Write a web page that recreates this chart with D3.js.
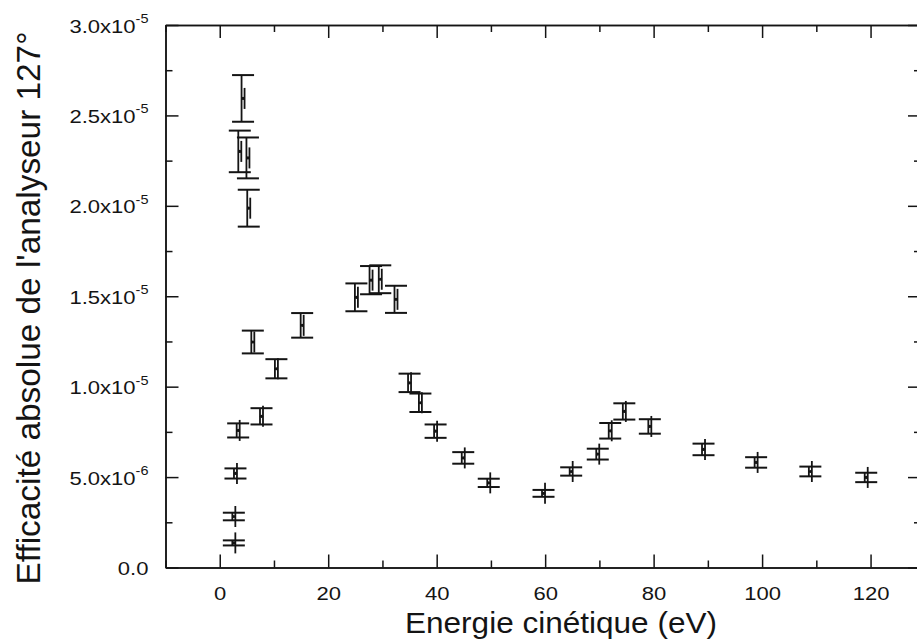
<!DOCTYPE html>
<html>
<head>
<meta charset="utf-8">
<script src="https://cdn.jsdelivr.net/npm/d3@7"></script>
<style>
  body { margin: 0; background: #fff; }
  svg { display: block; font-family: "Liberation Sans", Arial, sans-serif; }
</style>
</head>
<body>
<div id="chart"></div>
<script>
// Energie cinétique (eV)
const energie = [4.3, 3.7, 5.2, 5.35, 6.1, 10.45, 7.7, 3.4, 2.9, 2.6, 2.6,
  15.2, 25.2, 27.9, 29.6, 32.5, 35.0, 37.0, 39.8, 44.9, 49.6, 59.7,
  64.8, 69.7, 72.0, 74.6, 79.3, 89.2, 98.9, 108.9, 119.2];
// efficacité absolue, en unités de 1e-5
const efficacite = [2.594, 2.301, 2.265, 1.987, 1.247, 1.099, 0.836, 0.758, 0.520, 0.282, 0.136,
  1.339, 1.494, 1.589, 1.594, 1.483, 1.021, 0.911, 0.754, 0.606, 0.468, 0.410,
  0.531, 0.627, 0.756, 0.863, 0.780, 0.653, 0.581, 0.531, 0.498];
// demi-barre d'erreur, en unités de 1e-5
const erreur = [0.129, 0.115, 0.113, 0.102, 0.063, 0.053, 0.045, 0.039, 0.028, 0.021, 0.014,
  0.068, 0.077, 0.078, 0.077, 0.075, 0.051, 0.051, 0.037, 0.032, 0.023, 0.019,
  0.023, 0.030, 0.043, 0.045, 0.040, 0.032, 0.029, 0.027, 0.026];

const xTicks = [0, 20, 40, 60, 80, 100, 120];
const xMinorTicks = [-10, 10, 30, 50, 70, 90, 110, 130];
const yTicks = [0, 0.5, 1.0, 1.5, 2.0, 2.5, 3.0];
const yTickLabels = [["0.0", ""], ["5.0x10", "-6"], ["1.0x10", "-5"], ["1.5x10", "-5"],
  ["2.0x10", "-5"], ["2.5x10", "-5"], ["3.0x10", "-5"]];
const yMinorTicks = [0.25, 0.75, 1.25, 1.75, 2.25, 2.75];

const width = 917, height = 643;
const marginTop = 25, marginLeft = 165.5, marginBottom = 75.5;
const plotRight = 921;
const ink = "#141414";
const majorLen = 13, minorLen = 7;
const capHalf = 11, markerHalf = 10.5;

const x = d3.scaleLinear([-10, 129.3], [marginLeft, plotRight]);
const y = d3.scaleLinear([0, 3.0], [height - marginBottom, marginTop]);

const svg = d3.select("#chart").append("svg")
  .attr("width", width)
  .attr("height", height)
  .attr("viewBox", [0, 0, width, height]);

svg.append("rect").attr("width", width).attr("height", height).attr("fill", "#fff");

// axes: ticks pointing inside on all four sides
function axisGroup(axis, transform) {
  return svg.append("g")
    .attr("transform", transform)
    .call(axis.tickSizeOuter(0))
    .call(g => g.select(".domain").attr("stroke", ink).attr("stroke-width", 1.5))
    .call(g => g.selectAll(".tick line").attr("stroke", ink).attr("stroke-width", 1.5));
}

const bottomY = y(0), topY = y(3.0), leftX = x(-10);

// minor ticks first (no labels)
axisGroup(d3.axisBottom(x).tickValues(xMinorTicks).tickSizeInner(-minorLen).tickFormat(""), `translate(0,${bottomY})`);
axisGroup(d3.axisTop(x).tickValues(xMinorTicks).tickSizeInner(-minorLen).tickFormat(""), `translate(0,${topY})`);
axisGroup(d3.axisLeft(y).tickValues(yMinorTicks).tickSizeInner(-minorLen).tickFormat(""), `translate(${leftX},0)`);
axisGroup(d3.axisRight(y).tickValues(yMinorTicks).tickSizeInner(-minorLen).tickFormat(""), `translate(${plotRight},0)`);

// major ticks
const sx = 1.16; // tick labels are a bit wide in the original
axisGroup(d3.axisBottom(x).tickValues(xTicks).tickSizeInner(-majorLen).tickPadding(0).tickFormat(d3.format("d")), `translate(0,${bottomY})`)
  .call(g => g.selectAll(".tick text")
    .attr("y", null).attr("dy", null)
    .attr("font-size", 19).attr("font-family", "Liberation Sans, Arial, sans-serif")
    .attr("fill", ink)
    .attr("transform", `translate(0,32.5) scale(${sx},1)`));
axisGroup(d3.axisTop(x).tickValues(xTicks).tickSizeInner(-majorLen).tickFormat(""), `translate(0,${topY})`);
axisGroup(d3.axisRight(y).tickValues(yTicks).tickSizeInner(-majorLen).tickFormat(""), `translate(${plotRight},0)`);
axisGroup(d3.axisLeft(y).tickValues(yTicks).tickSizeInner(-majorLen).tickFormat(""), `translate(${leftX},0)`)
  .call(g => g.selectAll(".tick text").remove())
  .call(g => g.selectAll(".tick").each(function (d, i) {
    const t = d3.select(this).append("text")
      .attr("fill", ink)
      .attr("font-size", 19)
      .attr("text-anchor", "end")
      .attr("transform", `translate(-17,7) scale(${sx},1)`);
    t.append("tspan").text(yTickLabels[i][0]);
    if (yTickLabels[i][1]) {
      t.append("tspan").attr("font-size", 12.5).attr("dy", -9.5).text(yTickLabels[i][1]);
    }
  }));

// error bars + markers
const I = d3.range(energie.length);
const pts = svg.append("g")
  .attr("stroke", ink)
  .attr("fill", "none")
  .selectAll("g")
  .data(I)
  .join("g")
  .attr("transform", i => `translate(${x(energie[i])},0)`);

pts.append("line")
  .attr("x1", -1.5).attr("x2", -1.5)
  .attr("y1", i => y(efficacite[i] + erreur[i]))
  .attr("y2", i => y(efficacite[i] - erreur[i]))
  .attr("stroke-width", 1.8);
pts.append("line")
  .attr("x1", 1.5).attr("x2", 1.5)
  .attr("y1", i => y(efficacite[i]) - markerHalf)
  .attr("y2", i => y(efficacite[i]) + markerHalf)
  .attr("stroke-width", 1.8);
pts.append("line")
  .attr("x1", -capHalf).attr("x2", capHalf)
  .attr("y1", i => y(efficacite[i] + erreur[i]))
  .attr("y2", i => y(efficacite[i] + erreur[i]))
  .attr("stroke-width", 2);
pts.append("line")
  .attr("x1", -capHalf).attr("x2", capHalf)
  .attr("y1", i => y(efficacite[i] - erreur[i]))
  .attr("y2", i => y(efficacite[i] - erreur[i]))
  .attr("stroke-width", 2);
pts.append("circle")
  .attr("cx", 0)
  .attr("cy", i => y(efficacite[i]))
  .attr("r", 1.6)
  .attr("fill", ink)
  .attr("stroke", "none");

// axis titles
svg.append("text")
  .attr("x", 561)
  .attr("y", 633)
  .attr("text-anchor", "middle")
  .attr("font-size", 29)
  .attr("fill", ink)
  .attr("textLength", 312)
  .attr("lengthAdjust", "spacingAndGlyphs")
  .text("Energie cinétique (eV)");

svg.append("text")
  .attr("transform", "translate(40,308) rotate(-90)")
  .attr("text-anchor", "middle")
  .attr("font-size", 34)
  .attr("fill", ink)
  .attr("textLength", 553)
  .attr("lengthAdjust", "spacingAndGlyphs")
  .text("Efficacité absolue de l'analyseur 127°");
</script>
</body>
</html>
